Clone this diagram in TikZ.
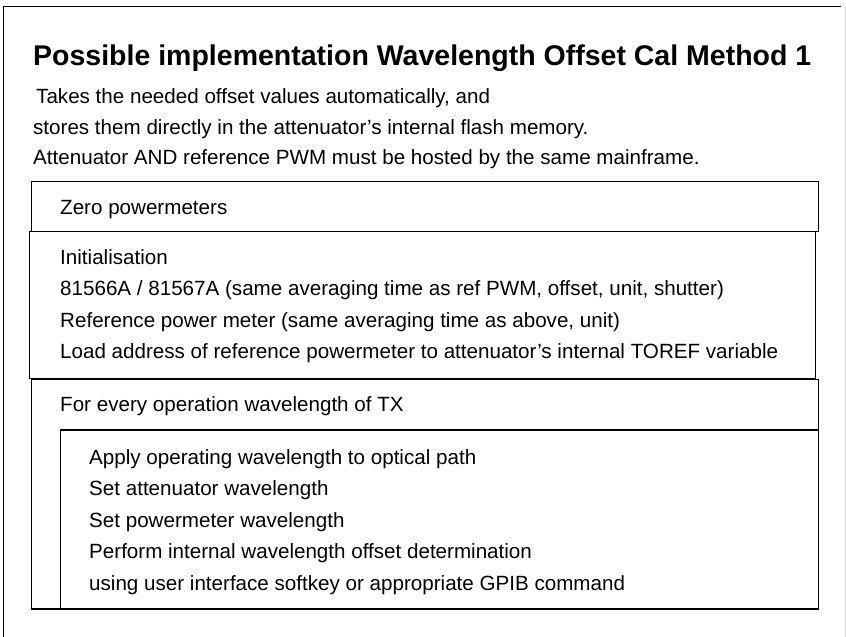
\documentclass[tikz,border=0pt]{standalone}
\usepackage{fontspec}
\setmainfont{Liberation Sans}
\usepackage{tikz}

\begin{document}
\begin{tikzpicture}[x=1pt,y=-1pt,
  txt/.style={anchor=base west, inner sep=0pt, font=\fontsize{20.6}{24}\selectfont},
  heading/.style={anchor=base west, inner sep=0pt, font=\bfseries\fontsize{28.5}{32}\selectfont},
  box/.style={line width=1.2pt}]
\useasboundingbox (0,0) rectangle (846,637);

% Outer frame (cut off at right and bottom)
\draw[line width=0.7pt] (3,640) -- (3,6) -- (841,6);
\draw[black!15, line width=0.7pt] (845,6) -- (845,637);

% Title and notes
\node[heading] (title) at (33,65.2) {Possible implementation Wavelength Offset Cal Method 1};
\node[txt] (note1) at (36,103.3) {Takes the needed offset values automatically, and};
\node[txt] (note2) at (33,134.3) {stores them directly in the attenuator’s internal flash memory.};
\node[txt] (note3) at (33,164.3) {Attenuator AND reference PWM must be hosted by the same mainframe.};

% Zero block
\draw[box] (31.7,181.7) rectangle (818.3,231.5);
\node[txt] (zero) at (60,214) {Zero powermeters};

% Initialisation block
\draw[box] (29.3,231.5) rectangle (815.3,378.5);
\node[txt] (init) at (60,264.3) {Initialisation};
\node[txt] (initatt) at (60,295.8) {81566A / 81567A (same averaging time as ref PWM, offset, unit, shutter)};
\node[txt] (initpwm) at (60,327.3) {Reference power meter (same averaging time as above, unit)};
\node[txt] (initaddr) at (60,358.8) {Load address of reference powermeter to attenuator’s internal TOREF variable};

% Loop over wavelengths
\draw[box] (31.7,379.5) rectangle (818.7,609);
\node[txt] (loop) at (60,411.3) {For every operation wavelength of TX};
\draw[box] (60.7,430) rectangle (818.7,609);
\node[txt] (step1) at (89,464.3) {Apply operating wavelength to optical path};
\node[txt] (step2) at (89,495.8) {Set attenuator wavelength};
\node[txt] (step3) at (89,527.3) {Set powermeter wavelength};
\node[txt] (step4) at (89,558.8) {Perform internal wavelength offset determination};
\node[txt] (step5) at (89,590.3) {using user interface softkey or appropriate GPIB command};
\end{tikzpicture}
\end{document}
